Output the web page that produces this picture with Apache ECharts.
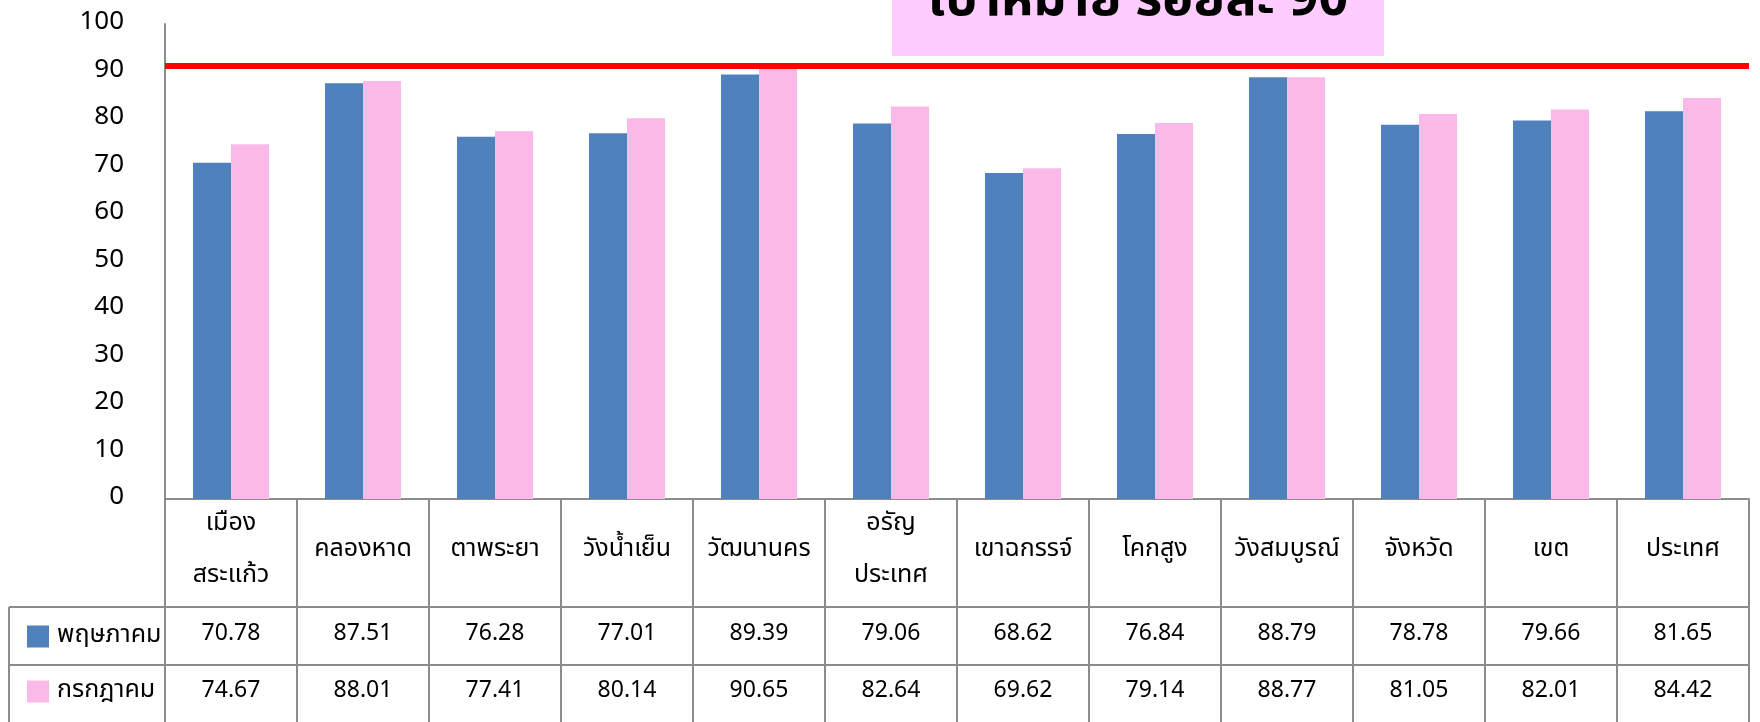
<!DOCTYPE html>
<html lang="th">
<head>
    <meta charset="UTF-8">
    <script src="https://cdn.jsdelivr.net/npm/echarts@6/dist/echarts.min.js"></script>
    <style>
        html, body { margin: 0; padding: 0; background: #fff; }
        #chart { width: 1760px; height: 722px; }
    </style>
</head>
<body>
<div id="chart"></div>
<script>
    // data
    var categories = ['เมือง\nสระแก้ว', 'คลองหาด', 'ตาพระยา', 'วังน้ำเย็น', 'วัฒนานคร', 'อรัญ\nประเทศ',
        'เขาฉกรรจ์', 'โคกสูง', 'วังสมบูรณ์', 'จังหวัด', 'เขต', 'ประเทศ'];
    var mayValues = [70.78, 87.51, 76.28, 77.01, 89.39, 79.06, 68.62, 76.84, 88.79, 78.78, 79.66, 81.65];
    var julyValues = [74.67, 88.01, 77.41, 80.14, 90.65, 82.64, 69.62, 79.14, 88.77, 81.05, 82.01, 84.42];
    var seriesNames = ['พฤษภาคม', 'กรกฎาคม'];
    var yTicks = { min: 0, max: 100, interval: 10 };
    var targetLine = 91.2;   // the red line sits a bit over the 90 label
    var titleText = 'เป้าหมาย ร้อยละ 90';

    var font = '"Noto Sans Thai", "Noto Sans", sans-serif';
    var gridLine = { color: '#8c8c8c', width: 2 };

    function fmt(v) { return v.toFixed(2); }

    var chart = echarts.init(document.getElementById('chart'));

    chart.setOption({
        animation: false,
        textStyle: { fontFamily: font },
        grid: { left: 165, right: 11, top: 24, bottom: 223 },
        legend: {
            data: seriesNames,
            orient: 'vertical',
            left: 22, top: 619,
            icon: 'rect',
            itemWidth: 22, itemHeight: 22,
            itemGap: 30,
            textStyle: { fontSize: 25, lineHeight: 22, color: '#000', fontFamily: font, padding: [0, 0, 0, 3] }
        },
        xAxis: [
            {
                type: 'category', data: categories, position: 'bottom',
                axisLine: { lineStyle: gridLine },
                axisTick: { show: true, interval: 0, length: 108, lineStyle: gridLine },
                axisLabel: { interval: 0, margin: 52, verticalAlign: 'middle', lineHeight: 52,
                    fontSize: 25, color: '#000', fontFamily: font }
            },
            {
                type: 'category', data: mayValues.map(fmt), position: 'bottom', offset: 108,
                axisLine: { lineStyle: gridLine },
                axisTick: { show: true, interval: 0, length: 58, lineStyle: gridLine },
                axisLabel: { interval: 0, margin: 28, verticalAlign: 'middle',
                    fontSize: 23, color: '#000', fontFamily: font }
            },
            {
                type: 'category', data: julyValues.map(fmt), position: 'bottom', offset: 166,
                axisLine: { lineStyle: gridLine },
                axisTick: { show: true, interval: 0, length: 60, lineStyle: gridLine },
                axisLabel: { interval: 0, margin: 27, verticalAlign: 'middle',
                    fontSize: 23, color: '#000', fontFamily: font }
            }
        ],
        yAxis: {
            type: 'value', min: yTicks.min, max: yTicks.max, interval: yTicks.interval,
            axisLine: { show: true, lineStyle: gridLine },
            axisTick: { show: false },
            splitLine: { show: false },
            axisLabel: { fontSize: 26, color: '#000', margin: 41, fontFamily: font }
        },
        series: [
            {
                name: seriesNames[0], type: 'bar', data: mayValues,
                barWidth: 38, barGap: '0%',
                itemStyle: { color: '#4F81BD' },
                markLine: {
                    silent: true, symbol: 'none',
                    label: { show: false },
                    lineStyle: { color: '#FF0000', width: 6, type: 'solid' },
                    data: [{ yAxis: targetLine }]
                },
                z: 2
            },
            {
                name: seriesNames[1], type: 'bar', data: julyValues,
                barWidth: 38,
                itemStyle: { color: '#FBB9EA' },
                z: 2
            }
        ],
        graphic: [
            // title box, cut off by the top edge
            { type: 'rect', shape: { x: 892, y: -60, width: 492, height: 116 },
              style: { fill: '#FFCCFF' }, z: 10 },
            { type: 'text', x: 1138, y: 4, z: 11,
              style: { text: titleText, fontSize: 52, fontWeight: 'bold', fill: '#000',
                  fontFamily: font, align: 'center', verticalAlign: 'middle' } },
            // legend column borders of the table
            { type: 'line', shape: { x1: 9, y1: 607, x2: 165, y2: 607 }, style: { stroke: '#8c8c8c', lineWidth: 2 } },
            { type: 'line', shape: { x1: 9, y1: 665, x2: 165, y2: 665 }, style: { stroke: '#8c8c8c', lineWidth: 2 } },
            { type: 'line', shape: { x1: 9, y1: 607, x2: 9, y2: 722 }, style: { stroke: '#8c8c8c', lineWidth: 2 } }
        ]
    });
</script>
</body>
</html>
